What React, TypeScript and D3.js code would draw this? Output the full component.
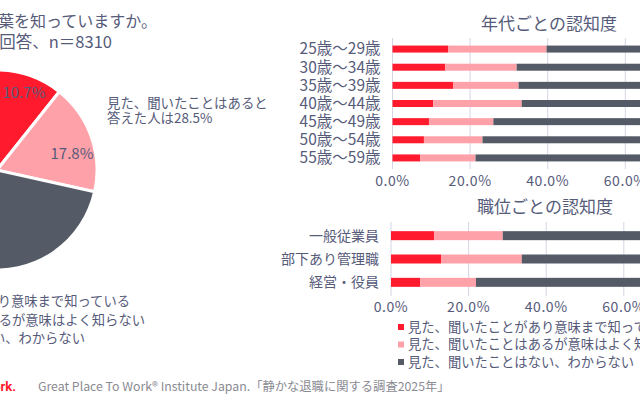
import * as d3 from "d3";

const W = 640;
const H = 397;

const FONT = "'Noto Sans CJK JP', 'Noto Sans', sans-serif";
const TEXT = "#565b7a";

const seriesNames = [
  "見た、聞いたことがあり意味まで知っている",
  "見た、聞いたことはあるが意味はよく知らない",
  "見た、聞いたことはない、わからない",
];
const seriesColors = ["#ff1a2d", "#ffa1a9", "#545b66"];

// overall answer (pie)
const pieValues = [10.7, 17.8, 71.5];

// awareness by age
const ageLabels = ["25歳〜29歳", "30歳〜34歳", "35歳〜39歳", "40歳〜44歳", "45歳〜49歳", "50歳〜54歳", "55歳〜59歳"];
const ageKnow = [14.4, 13.6, 15.7, 10.5, 9.4, 8.1, 7.1];
const ageHeard = [25.3, 18.4, 16.8, 22.8, 16.6, 15.1, 14.3];

// awareness by position
const posLabels = ["一般従業員", "部下あり管理職", "経営・役員"];
const posKnow = [11.1, 12.9, 7.5];
const posHeard = [17.7, 20.8, 14.4];

const tickValues = [0, 20, 40, 60, 80, 100];

function stackRows(know: number[], heard: number[]) {
  return know.map((k, i) => {
    const h = heard[i];
    return [
      [0, k],
      [k, k + h],
      [k + h, 100],
    ];
  });
}

function StackedBars({
  labels,
  know,
  heard,
  x0,
  top,
  bottom,
  barH,
  tickY,
  labelSize,
}: {
  labels: string[];
  know: number[];
  heard: number[];
  x0: number;
  top: number;
  bottom: number;
  barH: number;
  tickY: number;
  labelSize: number;
}) {
  const x = d3.scaleLinear().domain([0, 100]).range([x0, x0 + 388]);
  const y = d3.scaleBand<string>().domain(labels).range([top, bottom]);
  const rows = stackRows(know, heard);
  return (
    <g>
      {tickValues.map((t) => (
        <line key={t} x1={x(t)} x2={x(t)} y1={top - 2} y2={bottom + 2} stroke="#d4d6e4" strokeWidth={1} />
      ))}
      {rows.map((segs, i) => {
        const cy = (y(labels[i]) ?? 0) + y.bandwidth() / 2;
        return (
          <g key={labels[i]}>
            {segs.map(([a, b], j) => (
              <rect key={j} x={x(a)} y={cy - barH / 2} width={x(b) - x(a)} height={barH} fill={seriesColors[j]} />
            ))}
            <text x={x0 - 12} y={cy} dy="0.35em" textAnchor="end" fontSize={labelSize} fill={TEXT}>
              {labels[i]}
            </text>
          </g>
        );
      })}
      {tickValues.map((t) => (
        <text key={t} x={x(t)} y={tickY} textAnchor="middle" fontSize={14} letterSpacing={0.6} fill={TEXT}>
          {t.toFixed(1)}%
        </text>
      ))}
    </g>
  );
}

export default function App() {
  const pie = d3.pie<number>().sort(null).startAngle(0).endAngle(Math.PI * 2)(pieValues);
  const arc = d3.arc<d3.PieArcDatum<number>>().innerRadius(0).outerRadius(100);
  const cx = -3;
  const cy = 170;
  const labelPos = [
    [27, -77],
    [75, -16],
  ];

  return (
    <svg
      width={W}
      height={H}
      style={{ position: "absolute", left: 0, top: 0, background: "#fff" }}
      fontFamily={FONT}
    >
      {/* question title, cropped on the left */}
      <text x={157} y={27} textAnchor="end" fontSize={16} fill={TEXT}>
        「静かな退職」という言葉を知っていますか。
      </text>
      <text x={112} y={48} textAnchor="end" fontSize={16.5} fill={TEXT}>
        全体回答、n＝8310
      </text>

      {/* pie */}
      <g transform={`translate(${cx},${cy})`}>
        {pie.map((d, i) => (
          <path key={i} d={arc(d) ?? ""} fill={seriesColors[i]} stroke="#fff" strokeWidth={3} strokeLinejoin="round" />
        ))}
        {pieValues.slice(0, 2).map((v, i) => (
          <text key={i} x={labelPos[i][0]} y={labelPos[i][1]} textAnchor="middle" dy="0.35em" fontSize={15} fill={TEXT}>
            {v.toFixed(1)}%
          </text>
        ))}
      </g>

      <text x={107} y={108} fontSize={13.4} fill={TEXT}>見た、聞いたことはあると</text>
      <text x={107} y={123} fontSize={13.4} fill={TEXT}>答えた人は28.5%</text>

      {/* pie legend, cropped */}
      {seriesNames.map((s, i) => (
        <text key={s} x={[130, 145, 85][i]} y={306 + i * 18.5} textAnchor="end" fontSize={13.3} fill={TEXT}>
          ■{s}
        </text>
      ))}

      {/* right side charts */}
      <text x={549} y={30} textAnchor="middle" fontSize={17} fill={TEXT}>年代ごとの認知度</text>
      <StackedBars labels={ageLabels} know={ageKnow} heard={ageHeard} x0={392.5} top={40} bottom={167} barH={7} tickY={186} labelSize={15.5} />

      <text x={545} y={213} textAnchor="middle" fontSize={17} fill={TEXT}>職位ごとの認知度</text>
      <StackedBars labels={posLabels} know={posKnow} heard={posHeard} x0={391} top={224} bottom={294} barH={9} tickY={312} labelSize={14} />

      {/* legend */}
      {seriesNames.map((s, i) => (
        <g key={s} transform={`translate(398,${327 + i * 17.5})`}>
          <rect x={0} y={-3} width={6} height={6} fill={seriesColors[i]} />
          <text x={10} y={0} dy="0.35em" fontSize={13.3} fill={TEXT}>{s}</text>
        </g>
      ))}

      {/* source */}
      <text x={16} y={391} textAnchor="end" fontSize={13} fontWeight="bold" fill="#ff1a2d" fontFamily="Roboto, sans-serif">
        Work.
      </text>
      <text x={38} y={391} fontSize={12.3} fill="#8a8a92">
        Great Place To Work® Institute Japan.「静かな退職に関する調査2025年」
      </text>
    </svg>
  );
}
